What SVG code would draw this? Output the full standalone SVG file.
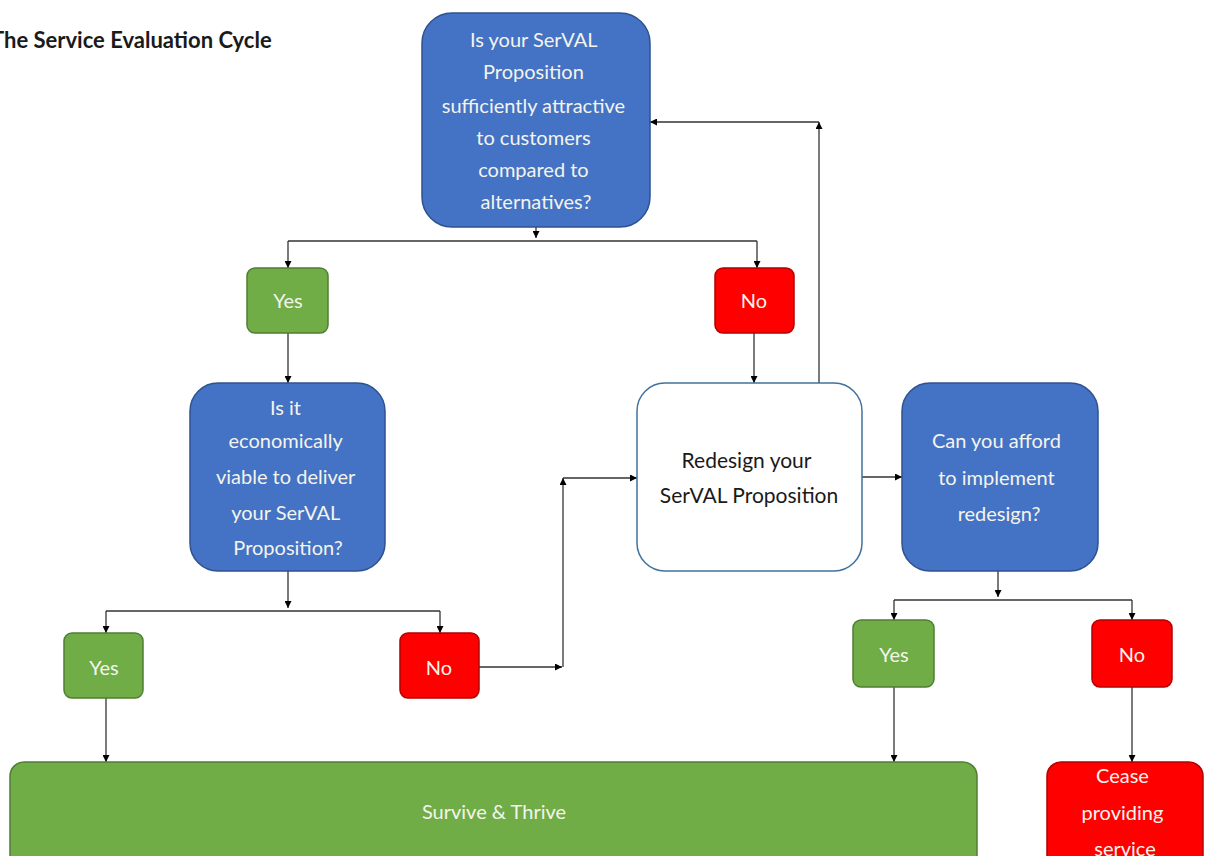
<svg xmlns="http://www.w3.org/2000/svg" width="1211" height="856" viewBox="0 0 1211 856">
  <defs>
    <marker id="arrow" viewBox="0 0 10 10" refX="10" refY="5" markerWidth="7" markerHeight="7" markerUnits="userSpaceOnUse" orient="auto">
      <path d="M0,0 L10,5 L0,10 z" fill="#000"/>
    </marker>
    <style>
      .txt { font-family: Lato, "Open Sans", "Liberation Sans", sans-serif; text-anchor: middle; }
      .q { fill: #4472C4; stroke: #2F528F; stroke-width: 1.5; }
      .yes { fill: #70AD47; stroke: #507E32; stroke-width: 1.5; }
      .no { fill: #FF0000; stroke: #B40000; stroke-width: 1.5; }
      .plain { fill: #FFFFFF; stroke: #41719C; stroke-width: 1.5; }
      .light { fill: #F4F4EC; font-size: 20px; }
      .dark { fill: #1A1A1A; font-size: 21px; }
      .conn path { fill: none; stroke: #333; stroke-width: 1.3; }
    </style>
  </defs>

  <rect width="1211" height="856" fill="#FFFFFF"/>

  <!-- heading -->
  <text x="-9" y="48" font-family="Lato, 'Liberation Sans', sans-serif" font-weight="bold" font-size="22" fill="#1A1A1A">The Service Evaluation Cycle</text>

  <!-- connectors -->
  <g class="conn">
    <path d="M536,227 V238" marker-end="url(#arrow)"/>
    <path d="M288,241 H757"/>
    <path d="M288,241 V268" marker-end="url(#arrow)"/>
    <path d="M757,241 V268" marker-end="url(#arrow)"/>
    <path d="M288,333 V383" marker-end="url(#arrow)"/>
    <path d="M754,333 V383" marker-end="url(#arrow)"/>
    <path d="M819,383 V122" marker-end="url(#arrow)"/>
    <path d="M819,122 H650" marker-end="url(#arrow)"/>
    <path d="M288,571 V608" marker-end="url(#arrow)"/>
    <path d="M106,611 H440"/>
    <path d="M106,611 V633" marker-end="url(#arrow)"/>
    <path d="M440,611 V633" marker-end="url(#arrow)"/>
    <path d="M479,667 H562" marker-end="url(#arrow)"/>
    <path d="M563,667 V478" marker-end="url(#arrow)"/>
    <path d="M563,478 H637" marker-end="url(#arrow)"/>
    <path d="M862,477 H902" marker-end="url(#arrow)"/>
    <path d="M998,571 V597" marker-end="url(#arrow)"/>
    <path d="M894,600 H1132"/>
    <path d="M894,600 V620" marker-end="url(#arrow)"/>
    <path d="M1132,600 V620" marker-end="url(#arrow)"/>
    <path d="M106,698 V762" marker-end="url(#arrow)"/>
    <path d="M894,687 V762" marker-end="url(#arrow)"/>
    <path d="M1132,687 V762" marker-end="url(#arrow)"/>
  </g>

  <!-- question: attractive to customers -->
  <g id="q-attractive">
    <rect class="q" x="422" y="13" width="228" height="214" rx="30"/>
    <text class="txt light">
      <tspan x="536" y="47">Is your SerVAL</tspan>
      <tspan x="536" y="79">Proposition</tspan>
      <tspan x="536" y="113">sufficiently attractive</tspan>
      <tspan x="536" y="145">to customers</tspan>
      <tspan x="536" y="177">compared to</tspan>
      <tspan x="536" y="209">alternatives?</tspan>
    </text>
  </g>

  <g id="yes-1">
    <rect class="yes" x="247" y="268" width="81" height="65" rx="8"/>
    <text class="txt light" x="288" y="308">Yes</text>
  </g>

  <g id="no-1">
    <rect class="no" x="715" y="268" width="79" height="65" rx="8"/>
    <text class="txt light" x="754" y="308">No</text>
  </g>

  <!-- question: economically viable -->
  <g id="q-viable">
    <rect class="q" x="190" y="383" width="195" height="188" rx="28"/>
    <text class="txt light">
      <tspan x="288" y="415">Is it</tspan>
      <tspan x="288" y="448">economically</tspan>
      <tspan x="288" y="484">viable to deliver</tspan>
      <tspan x="288" y="520">your SerVAL</tspan>
      <tspan x="288" y="555">Proposition?</tspan>
    </text>
  </g>

  <g id="redesign">
    <rect class="plain" x="637" y="383" width="225" height="188" rx="28"/>
    <text class="txt dark">
      <tspan x="749" y="468">Redesign your</tspan>
      <tspan x="749" y="503">SerVAL Proposition</tspan>
    </text>
  </g>

  <!-- question: affordability -->
  <g id="q-afford">
    <rect class="q" x="902" y="383" width="196" height="188" rx="28"/>
    <text class="txt light">
      <tspan x="999" y="448">Can you afford</tspan>
      <tspan x="999" y="485">to implement</tspan>
      <tspan x="999" y="521">redesign?</tspan>
    </text>
  </g>

  <g id="yes-2">
    <rect class="yes" x="64" y="633" width="79" height="65" rx="8"/>
    <text class="txt light" x="104" y="675">Yes</text>
  </g>

  <g id="no-2">
    <rect class="no" x="400" y="633" width="79" height="65" rx="8"/>
    <text class="txt light" x="439" y="675">No</text>
  </g>

  <g id="yes-3">
    <rect class="yes" x="853" y="620" width="81" height="67" rx="8"/>
    <text class="txt light" x="894" y="662">Yes</text>
  </g>

  <g id="no-3">
    <rect class="no" x="1092" y="620" width="80" height="67" rx="8"/>
    <text class="txt light" x="1132" y="662">No</text>
  </g>

  <g id="survive">
    <rect class="yes" x="10" y="762" width="967" height="110" rx="14"/>
    <text class="txt light" x="494" y="819">Survive &amp; Thrive</text>
  </g>

  <g id="cease">
    <rect class="no" x="1047" y="762" width="156" height="110" rx="14"/>
    <text class="txt light">
      <tspan x="1125" y="783">Cease</tspan>
      <tspan x="1125" y="820">providing</tspan>
      <tspan x="1125" y="856">service</tspan>
    </text>
  </g>
</svg>
